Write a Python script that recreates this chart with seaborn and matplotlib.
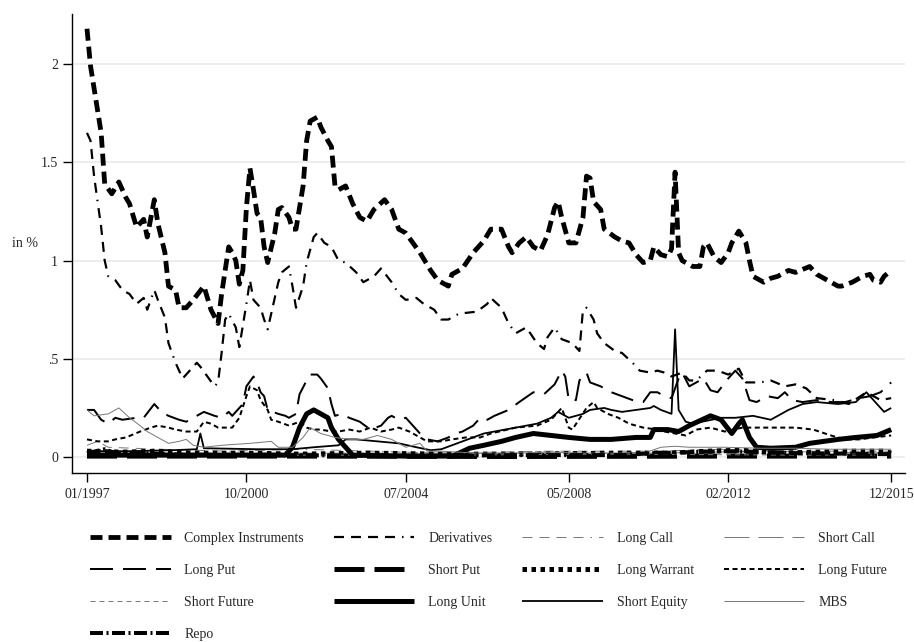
import numpy as np
import pandas as pd
import matplotlib
matplotlib.use("Agg")
import matplotlib.pyplot as plt
import seaborn as sns

# ---------------- data (month index: 0 = 01/1997, 227 = 12/2015) ----------------
ci_m = [0,1,4,5,7,9,11,12,14,16,17,19,20,22,23,25,26,28,30,33,35,37,38,40,41,42,43,44,45,46,47,48,49,50,51,53,54,55,57,58,59,61,62,63,65,66,68,69,70,71,73,75,77,79,81,84,86,88,90,92,94,97,99,102,103,105,106,109,112,114,117,119,120,122,124,126,128,130,132,133,134,136,138,140,141,142,143,145,146,149,151,153,155,157,159,160,162,164,165,166,167,168,171,173,174,175,177,179,181,182,184,186,187,188,191,193,195,198,200,204,206,209,212,213,216,219,221,222,224,225,227]
ci_v = [2.18,1.99,1.65,1.39,1.34,1.40,1.32,1.29,1.17,1.21,1.12,1.31,1.19,1.04,0.87,0.85,0.76,0.76,0.80,0.87,0.75,0.68,0.83,1.07,1.04,1.00,0.88,0.95,1.27,1.47,1.36,1.24,1.22,1.07,0.99,1.14,1.26,1.27,1.22,1.16,1.16,1.38,1.61,1.71,1.73,1.68,1.61,1.58,1.38,1.36,1.38,1.29,1.22,1.20,1.26,1.31,1.26,1.16,1.14,1.09,1.04,0.95,0.90,0.87,0.93,0.95,0.96,1.04,1.10,1.16,1.16,1.07,1.04,1.09,1.12,1.07,1.05,1.13,1.27,1.30,1.22,1.09,1.09,1.22,1.43,1.42,1.30,1.26,1.16,1.12,1.10,1.09,1.03,0.99,1.00,1.07,1.03,1.02,1.06,1.45,1.04,1.00,0.97,0.97,1.07,1.09,1.02,0.99,1.04,1.09,1.15,1.09,1.00,0.92,0.89,0.91,0.92,0.95,0.94,0.97,0.93,0.90,0.87,0.87,0.89,0.92,0.93,0.90,0.89,0.92,0.95]

der_m = [0,1,2,4,5,6,8,10,12,14,16,17,19,20,22,23,25,27,29,31,32,34,36,37,38,39,40,42,43,45,46,47,49,50,51,52,54,55,57,58,59,61,62,64,65,67,69,71,73,76,78,81,83,86,88,90,93,95,98,100,102,105,110,113,114,117,119,121,124,127,129,130,132,134,137,139,140,141,143,144,146,149,151,154,156,159,161,163,165,168,170,172,175,178,181,184,186,190,193,197,200,203,206,211,215,220,224,227]
der_v = [1.65,1.61,1.43,1.17,1.00,0.92,0.90,0.85,0.83,0.78,0.81,0.75,0.85,0.80,0.71,0.58,0.48,0.40,0.44,0.48,0.46,0.41,0.36,0.38,0.53,0.70,0.73,0.66,0.56,0.78,0.90,0.80,0.76,0.70,0.65,0.73,0.89,0.94,0.97,0.87,0.76,0.87,0.99,1.12,1.14,1.09,1.07,1.00,0.99,0.94,0.89,0.92,0.96,0.89,0.83,0.80,0.81,0.78,0.75,0.70,0.70,0.73,0.74,0.78,0.81,0.76,0.68,0.63,0.66,0.58,0.55,0.61,0.66,0.60,0.58,0.54,0.75,0.76,0.70,0.63,0.58,0.54,0.53,0.48,0.44,0.43,0.44,0.43,0.41,0.43,0.39,0.39,0.44,0.44,0.42,0.45,0.38,0.38,0.39,0.36,0.37,0.35,0.30,0.29,0.27,0.33,0.29,0.30]

lcall_m = [0,3,6,20,40,60,80,100,130,160,180,200,227]
lcall_v = [0.06,0.08,0.05,0.04,0.03,0.04,0.03,0.02,0.03,0.03,0.04,0.03,0.03]

scall_m = [0,30,60,90,120,160,190,227]
scall_v = [0.02,0.02,0.02,0.02,0.02,0.02,0.03,0.02]

lput_m = [0,2,4,6,8,10,14,16,19,21,23,26,28,30,33,36,38,40,41,44,45,47,48,49,50,51,54,56,57,59,60,62,63,65,66,68,69,70,72,74,77,80,83,85,86,88,90,92,94,96,99,102,104,106,109,111,113,115,119,122,126,129,132,134,135,136,138,139,141,142,145,148,151,154,157,159,161,163,165,167,168,170,172,174,176,178,181,183,185,187,189,192,195,197,199,202,206,210,214,218,221,224,227]
lput_v = [0.24,0.24,0.19,0.17,0.20,0.19,0.20,0.20,0.27,0.23,0.21,0.19,0.18,0.20,0.23,0.21,0.20,0.23,0.21,0.27,0.36,0.41,0.38,0.33,0.31,0.24,0.22,0.21,0.20,0.22,0.32,0.39,0.42,0.42,0.40,0.35,0.27,0.21,0.22,0.20,0.18,0.14,0.16,0.20,0.21,0.19,0.20,0.16,0.12,0.09,0.08,0.10,0.12,0.13,0.16,0.20,0.19,0.21,0.24,0.28,0.33,0.32,0.37,0.44,0.41,0.29,0.29,0.39,0.43,0.38,0.36,0.33,0.31,0.29,0.28,0.33,0.33,0.31,0.30,0.40,0.43,0.36,0.38,0.40,0.34,0.33,0.40,0.44,0.40,0.29,0.28,0.31,0.30,0.33,0.29,0.28,0.29,0.28,0.28,0.30,0.31,0.33,0.38]

sput_m = [0,60,120,180,227]
sput_v = [0.005,0.005,0.003,0.005,0.005]

lwar_m = [0,10,20,30,45,60,80,100,120,150,165,175,185,195,205,215,225,227]
lwar_v = [0.03,0.025,0.03,0.02,0.02,0.015,0.02,0.015,0.015,0.02,0.02,0.03,0.035,0.02,0.025,0.03,0.03,0.02]

lfut_m = [0,3,6,8,11,15,18,20,23,25,28,31,33,35,37,40,41,43,45,46,48,49,51,52,54,57,60,62,64,66,69,71,74,77,80,83,86,88,91,94,96,100,103,107,111,114,121,127,131,134,136,137,141,143,144,147,150,153,157,161,163,166,169,172,176,180,185,190,195,200,205,210,214,218,222,227]
lfut_v = [0.09,0.08,0.08,0.09,0.10,0.13,0.15,0.16,0.15,0.14,0.13,0.13,0.18,0.17,0.15,0.15,0.15,0.20,0.31,0.36,0.34,0.29,0.24,0.19,0.18,0.16,0.18,0.15,0.14,0.14,0.13,0.13,0.14,0.13,0.15,0.13,0.14,0.15,0.13,0.10,0.08,0.08,0.09,0.10,0.10,0.12,0.15,0.16,0.19,0.25,0.15,0.14,0.25,0.28,0.25,0.22,0.20,0.17,0.15,0.14,0.13,0.12,0.11,0.14,0.15,0.13,0.15,0.15,0.15,0.15,0.14,0.11,0.09,0.09,0.10,0.11]

sfut_m = [0,50,100,150,200,227]
sfut_v = [0.01,0.01,0.01,0.015,0.01,0.01]

lunit_m = [0,20,40,56,58,60,62,64,66,68,69,71,73,75,90,103,105,108,112,117,121,126,131,136,142,148,155,159,160,164,167,170,176,179,182,184,185,187,189,193,200,204,212,217,223,227]
lunit_v = [0.01,0.01,0.01,0.01,0.05,0.15,0.22,0.24,0.22,0.20,0.15,0.09,0.05,0.01,0.005,0.005,0.02,0.045,0.06,0.08,0.10,0.12,0.11,0.10,0.09,0.09,0.10,0.10,0.14,0.14,0.13,0.16,0.21,0.19,0.12,0.17,0.19,0.10,0.05,0.045,0.05,0.07,0.09,0.10,0.11,0.14]

seq_m = [0,12,24,31,32,33,48,58,64,71,73,76,82,88,93,97,100,103,106,112,121,127,131,133,136,140,142,146,148,151,155,159,160,162,165,166,167,169,171,179,183,188,193,198,202,206,212,217,220,222,225,227]
seq_v = [0.03,0.03,0.035,0.04,0.12,0.045,0.04,0.04,0.05,0.06,0.09,0.09,0.08,0.07,0.05,0.035,0.04,0.06,0.08,0.12,0.15,0.17,0.20,0.23,0.20,0.22,0.24,0.25,0.24,0.23,0.24,0.25,0.26,0.24,0.22,0.65,0.24,0.18,0.17,0.20,0.20,0.21,0.19,0.24,0.27,0.28,0.27,0.28,0.33,0.29,0.23,0.25]

mbs_m = [0,2,6,9,12,15,17,20,23,26,28,30,33,38,46,52,54,58,61,63,66,70,74,78,82,86,90,94,96,100,110,120,130,140,150,158,162,166,170,180,190,200,210,220,227]
mbs_v = [0.24,0.21,0.22,0.25,0.20,0.16,0.13,0.10,0.07,0.08,0.09,0.06,0.05,0.06,0.07,0.08,0.05,0.05,0.10,0.15,0.12,0.10,0.09,0.09,0.11,0.09,0.05,0.07,0.03,0.03,0.02,0.02,0.025,0.02,0.02,0.025,0.05,0.055,0.05,0.05,0.045,0.045,0.04,0.04,0.04]

repo_m = [0,5,8,15,30,60,90,120,150,160,180,200,227]
repo_v = [0.02,0.04,0.02,0.02,0.01,0.01,0.005,0.01,0.01,0.02,0.03,0.02,0.015]

labels = ["Complex Instruments", "Derivatives", "Long Call", "Short Call",
          "Long Put", "Short Put", "Long Warrant", "Long Future",
          "Short Future", "Long Unit", "Short Equity", "MBS", "Repo"]
series_m = [ci_m, der_m, lcall_m, scall_m, lput_m, sput_m, lwar_m, lfut_m,
            sfut_m, lunit_m, seq_m, mbs_m, repo_m]
series_v = [ci_v, der_v, lcall_v, scall_v, lput_v, sput_v, lwar_v, lfut_v,
            sfut_v, lunit_v, seq_v, mbs_v, repo_v]

tick_months = [0, 45, 90, 136, 181, 227]
tick_labels = ["01/1997", "10/2000", "07/2004", "05/2008", "02/2012", "12/2015"]
ytick_vals = [0, 0.5, 1, 1.5, 2]
ytick_labels = ["0", ".5", "1", "1.5", "2"]

# ---------------- styles (dash lengths in px, converted to pt) ----------------
PX = 0.72
GRAY = "#7a7a7a"
styles = {
    "Complex Instruments": dict(color="black", lw=4.8, dash=(12, 6)),
    "Derivatives": dict(color="black", lw=2.2, dash=(10, 7, 10, 7, 10, 7, 10, 7, 1.5, 7)),
    "Long Call": dict(color=GRAY, lw=1.0, dash=(10, 7, 10, 7, 10, 7, 10, 7, 1.5, 7)),
    "Short Call": dict(color=GRAY, lw=1.0, dash=(25, 9)),
    "Long Put": dict(color="black", lw=2.0, dash=(23, 10)),
    "Short Put": dict(color="black", lw=5.0, dash=(30, 10)),
    "Long Warrant": dict(color="black", lw=5.0, dash=(4.5, 4.5)),
    "Long Future": dict(color="black", lw=2.0, dash=(5, 3.5)),
    "Short Future": dict(color=GRAY, lw=1.0, dash=(5, 4)),
    "Long Unit": dict(color="black", lw=5.0, dash=None),
    "Short Equity": dict(color="black", lw=1.8, dash=None),
    "MBS": dict(color=GRAY, lw=1.0, dash=None),
    "Repo": dict(color="black", lw=4.0, dash=(13, 3.5, 2, 3.5)),
}

sns.set_theme(style="white")
plt.rcParams["font.family"] = ["Liberation Serif", "DejaVu Serif"]
plt.rcParams["lines.scale_dashes"] = False
plt.rcParams["lines.solid_capstyle"] = "butt"
plt.rcParams["lines.dash_capstyle"] = "butt"

fig = plt.figure(figsize=(9.14, 6.42), dpi=100)
ax = fig.add_axes([72 / 914, 1 - 473 / 642, (905 - 72) / 914, (473 - 14) / 642])

handles = {}
for name, mm, vv in zip(labels, series_m, series_v):
    df = pd.DataFrame({"month": mm, "value": vv})
    st = styles[name]
    n_before = len(ax.lines)
    sns.lineplot(data=df, x="month", y="value", ax=ax, color=st["color"],
                 linewidth=st["lw"] * PX, estimator=None, sort=False, legend=False)
    line = ax.lines[n_before]
    if st["dash"] is not None:
        line.set_dashes([d * PX for d in st["dash"]])
    line.set_solid_joinstyle("round")
    line.set_dash_joinstyle("round")
    handles[name] = line

ax.set_xlim(-4.23, 230.9)
ax.set_ylim(-0.081, 2.255)
ax.set_xticks(tick_months)
ax.set_xticklabels(tick_labels)
ax.set_yticks(ytick_vals)
ax.set_yticklabels(ytick_labels)
ax.tick_params(axis="both", which="both", direction="out", length=6.5, width=1.0,
               color="black", labelsize=10, pad=3.5, left=True, bottom=True)
ax.tick_params(axis="x", pad=4)
for lab in ax.get_yticklabels():
    lab.set_rotation(0)

ax.yaxis.grid(True, color="#eaeaea", linewidth=1.2)
ax.xaxis.grid(False)
ax.set_axisbelow(True)
for s in ["top", "right"]:
    ax.spines[s].set_visible(False)
for s in ["left", "bottom"]:
    ax.spines[s].set_color("black")
    ax.spines[s].set_linewidth(1.0)

ax.set_xlabel("")
ax.set_ylabel("in %", rotation=0, fontsize=10, ha="center", va="center")
ax.yaxis.set_label_coords(-0.0564, 0.5)

# legend: matplotlib fills columns first, so reorder to get row-major layout
order = ["Complex Instruments", "Long Put", "Short Future", "Repo",
         "Derivatives", "Short Put", "Long Unit",
         "Long Call", "Long Warrant", "Short Equity",
         "Short Call", "Long Future", "MBS"]
leg = fig.legend([handles[k] for k in order], order, loc="upper left",
                 bbox_to_anchor=(90 / 914, 1 - 532 / 642), ncol=4, frameon=False,
                 fontsize=10, handlelength=5.8, handletextpad=1.0,
                 columnspacing=2.15, labelspacing=1.37, borderpad=0,
                 borderaxespad=0)

fig.savefig("out.png", dpi=100)
